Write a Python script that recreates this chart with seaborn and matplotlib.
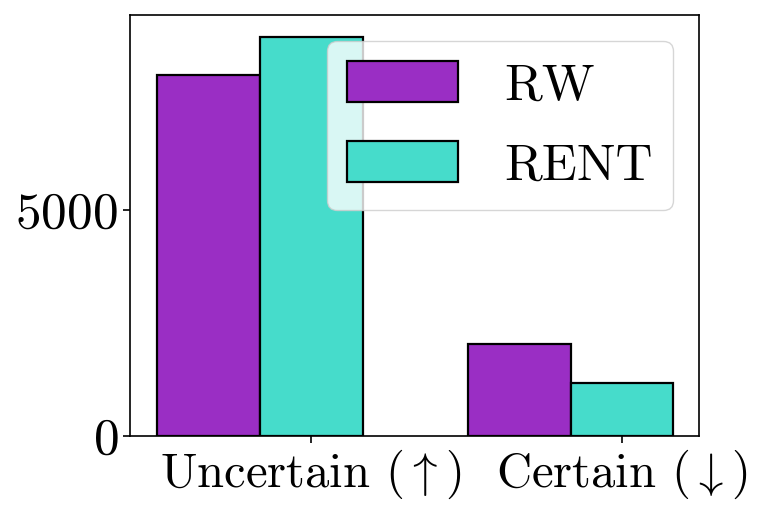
import pandas as pd
import numpy as np
import matplotlib
matplotlib.use("Agg")
import matplotlib.pyplot as plt
import seaborn as sns

# values
categories = ["Uncertain ($\\uparrow$)", "Certain ($\\downarrow$)"]
methods = ["RW", "RENT"]
rw_values = [7990, 2035]
rent_values = [8830, 1175]
rw_err = [15, 12]
rent_err = [8, 6]

plt.rcParams["font.family"] = ["cmr10", "DejaVu Serif"]
plt.rcParams["mathtext.fontset"] = "cm"
plt.rcParams["axes.formatter.use_mathtext"] = True

df = pd.DataFrame({
    "Category": categories * 2,
    "Method": ["RW"] * 2 + ["RENT"] * 2,
    "Count": rw_values + rent_values,
})

fig = plt.figure(figsize=(7.62, 5.22), dpi=100)
ax = fig.add_axes([0.1706, 0.1648, 0.7467, 0.8065])

width = 0.66
sns.barplot(data=df, x="Category", y="Count", hue="Method", hue_order=methods,
            palette=["#9a2ec4", "#46dccb"], saturation=1, edgecolor="black",
            linewidth=1.6, width=width, errorbar=None, ax=ax)

# tiny error bars on top of each bar
x = np.arange(len(categories))
ax.errorbar(x - width / 4, rw_values, yerr=rw_err, fmt="none", ecolor="black", elinewidth=1.5)
ax.errorbar(x + width / 4, rent_values, yerr=rent_err, fmt="none", ecolor="black", elinewidth=1.5)

ax.set_xticks(x + width / 4)
ax.set_xticklabels(categories)
ax.set_xlim(-0.418, 1.412)
ax.set_ylim(0, 9310)
ax.set_yticks([0, 5000])
ax.set_xlabel("")
ax.set_ylabel("")
ax.tick_params(axis="y", labelsize=37, width=1.2, length=5)
ax.tick_params(axis="x", labelsize=35, width=1.2, length=5)
for s in ax.spines.values():
    s.set_linewidth(1.2)

ax.legend(loc="upper right", fontsize=37, title=None, handleheight=0.85,
          handlelength=2.15, labelspacing=0.62, handletextpad=0.9)

fig.savefig("out.png", dpi=100)
